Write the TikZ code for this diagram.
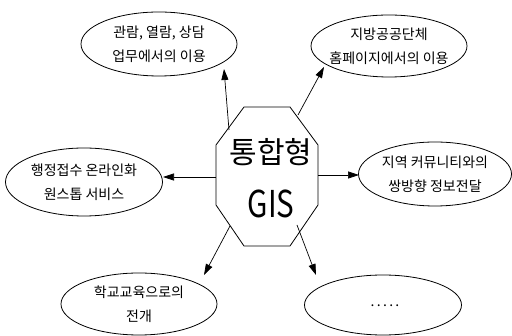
\documentclass[tikz,border=0pt]{standalone}
\usepackage{fontspec}
\setmainfont{Noto Sans CJK KR}
\usetikzlibrary{arrows.meta,shapes.geometric}
\begin{document}
\begin{tikzpicture}[x=1pt,y=-1pt,
  bubble/.style={draw, line width=0.8pt, ellipse, inner sep=0pt, fill=white},
  txt/.style={align=center, inner sep=0pt, font=\fontsize{14}{24}\selectfont},
  link/.style={line width=0.7pt, -{Triangle[length=11pt,width=7pt]}},
  octo/.style={draw, line width=0.8pt, fill=white}]
\useasboundingbox[fill=white] (0,0) rectangle (512,336);

% ellipses
\node[bubble, minimum width=156pt, minimum height=64pt,
  label={[txt]center:관람, 열람, 상담\\업무에서의 이용}] (e1) at (159,44) {};
\node[bubble, minimum width=156pt, minimum height=62pt,
  label={[txt]center:지방공공단체\\홈페이지에서의 이용}] (e2) at (389,46) {};
\node[bubble, minimum width=157pt, minimum height=68pt,
  label={[txt]center:행정접수 온라인화\\원스톱 서비스}] (e3) at (84,182) {};
\node[bubble, minimum width=153pt, minimum height=64pt,
  label={[txt]center:지역 커뮤니티와의\\쌍방향 정보전달}] (e4) at (435,174) {};
\node[bubble, minimum width=156pt, minimum height=62pt,
  label={[txt]center:학교교육으로의\\전개}] (e5) at (139,304) {};
\node[bubble, minimum width=157pt, minimum height=60pt] (e6) at (383,305) {};
\node[txt] (dots) at (385,306) {.\,.\,.\,.\,.};

% octagon
\draw[octo] (244,107) -- (290,107) -- (318,145) -- (318,205) -- (290,246)
  -- (244,246) -- (216,205) -- (216,145) -- cycle;
\node[inner sep=0pt, font=\fontsize{30}{30}\selectfont] (t1) at (271,152) {통합형};
\node[inner sep=0pt, font=\fontsize{37}{37}\selectfont] (t2) at (271,204) {\scalebox{0.8}[1]{GIS}};

% connector end points
\coordinate (s1) at (229,130); \coordinate (f1) at (224,69);
\coordinate (s2) at (298,115); \coordinate (f2) at (324,67);
\coordinate (s3) at (216,177); \coordinate (f3) at (163,177);
\coordinate (s4) at (318,175); \coordinate (f4) at (359,175);
\coordinate (s5) at (230,226); \coordinate (f5) at (204,275);
\coordinate (s6) at (297,225); \coordinate (f6) at (316,275);

\draw[link] (s1) -- (f1);
\draw[link] (s2) -- (f2);
\draw[link] (s3) -- (f3);
\draw[link] (s4) -- (f4);
\draw[link] (s5) -- (f5);
\draw[link] (s6) -- (f6);
\end{tikzpicture}
\end{document}
